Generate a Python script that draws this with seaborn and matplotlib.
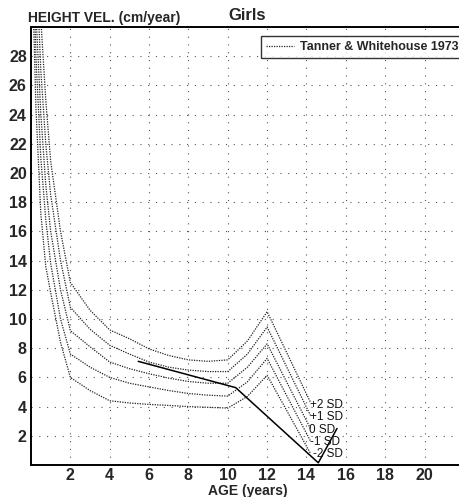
import matplotlib
matplotlib.use("Agg")
import matplotlib.pyplot as plt
import pandas as pd
import seaborn as sns

# ages (years) at which the reference centiles are given
ages = [0.1, 0.25, 0.5, 0.75, 1.0, 1.5, 2, 3, 4, 5, 6, 7, 8, 9, 10, 11, 12, 14.2]

# height velocity (cm/year), Tanner & Whitehouse 1973, girls
sd_plus2 = [48, 39, 30.5, 25, 20.8, 16.0, 12.5, 10.6, 9.25, 8.65, 7.95, 7.5, 7.2, 7.1, 7.2, 8.5, 10.5, 4.3]
sd_plus1 = [44, 35, 27, 22, 18.5, 14.0, 10.8, 9.3, 8.2, 7.6, 7.05, 6.7, 6.5, 6.4, 6.4, 7.6, 9.45, 3.4]
sd_zero = [40, 31, 24, 19.2, 16.0, 12.0, 9.2, 8.1, 7.05, 6.6, 6.25, 5.95, 5.72, 5.6, 5.6, 6.7, 8.3, 2.5]
sd_minus1 = [36, 28, 21, 16.8, 13.8, 10.0, 7.6, 6.7, 6.0, 5.6, 5.35, 5.1, 4.9, 4.78, 4.72, 5.7, 7.3, 1.65]
sd_minus2 = [32, 24.5, 17.2, 13.6, 11.8, 8.4, 6.0, 5.1, 4.4, 4.25, 4.15, 4.08, 4.0, 3.95, 3.9, 4.7, 6.15, 0.8]

sd_labels = ["+2 SD", "+1 SD", "0 SD", "-1 SD", "-2 SD"]
label_y = [4.1, 3.3, 2.4, 1.55, 0.75]
label_x = [14.2, 14.2, 14.15, 14.2, 14.35]

# measured child
child_age = [5.45, 10.4, 14.6, 15.55]
child_vel = [7.1, 5.3, 0.15, 2.5]

sns.set_style("white")
plt.rcParams['font.family'] = ['Liberation Sans', 'DejaVu Sans']

fig = plt.figure(figsize=(4.59, 4.97), dpi=100)
ax = fig.add_axes([31 / 459, 1 - 465 / 497, 1 - 31 / 459, (465 - 27) / 497])

curves = [sd_plus2, sd_plus1, sd_zero, sd_minus1, sd_minus2]
for i, vals in enumerate(curves):
    df = pd.DataFrame({"age": ages, "vel": vals})
    sns.lineplot(data=df, x="age", y="vel", ax=ax, sort=False, estimator=None,
                 color="#222222", linewidth=0.9, linestyle=(0, (1, 1)),
                 label="Tanner & Whitehouse 1973" if i == 0 else None)

for lab, lx, ly in zip(sd_labels, label_x, label_y):
    ax.text(lx, ly, lab, fontsize=8.5, va="center", ha="left", color="#111111")

child = pd.DataFrame({"age": child_age, "vel": child_vel})
sns.lineplot(data=child, x="age", y="vel", ax=ax, sort=False, estimator=None,
             color="black", linewidth=1.1)

ax.set_xlim(0, 21.75)
ax.set_ylim(0, 30)
ax.set_xticks(range(2, 21, 2))
ax.set_yticks(range(2, 29, 2))
ax.tick_params(length=0, labelsize=11.5)
ax.tick_params(axis="x", pad=2)
ax.tick_params(axis="y", pad=3)
for t in ax.get_xticklabels() + ax.get_yticklabels():
    t.set_fontweight("bold")
ax.grid(True, color="#555555", linestyle=(0, (1, 6)), linewidth=0.8)

for side in ["left", "bottom", "top"]:
    ax.spines[side].set_color("black")
    ax.spines[side].set_linewidth(1.4)
ax.spines["right"].set_visible(False)

ax.set_xlabel("")
ax.set_ylabel("")
fig.text(28 / 459, 1 - 18 / 497, "HEIGHT VEL. (cm/year)", fontsize=10,
         fontweight="bold", ha="left", va="center")
fig.text(247 / 459, 1 - 15 / 497, "Girls", fontsize=12, fontweight="bold",
         ha="center", va="center")
fig.text(248 / 459, 1 - 491 / 497, "AGE (years)", fontsize=10,
         fontweight="bold", ha="center", va="center")

leg = ax.legend(loc="upper left", bbox_to_anchor=(261 / 459, 1 - 36 / 497),
                bbox_transform=fig.transFigure, frameon=True, fancybox=False,
                handlelength=2.2, handletextpad=0.5, borderpad=0.4,
                borderaxespad=0, prop={"weight": "bold", "size": 9})
leg.get_frame().set_edgecolor("black")
leg.get_frame().set_linewidth(1.0)

plt.savefig("out.png", dpi=100)
